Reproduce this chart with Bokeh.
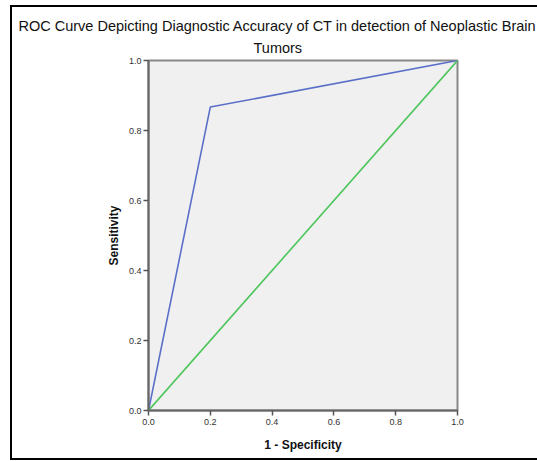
from bokeh.plotting import figure
from bokeh.models import Range1d, FixedTicker, NumeralTickFormatter, Title
from bokeh.embed import file_html
from bokeh.resources import INLINE

# Data
fpr = [0.0, 0.2, 1.0]
tpr = [0.0, 0.867, 1.0]
ref_x = [0.0, 1.0]
ref_y = [0.0, 1.0]
ticks = [0.0, 0.2, 0.4, 0.6, 0.8, 1.0]
title_line1 = "ROC Curve Depicting Diagnostic Accuracy of CT in detection of Neoplastic Brain"
title_line2 = "Tumors"

W, H = 525, 451
p = figure(width=W, height=H, output_backend="svg", toolbar_location=None,
           x_range=Range1d(0, 1), y_range=Range1d(0, 1),
           min_border_left=136, min_border_right=82, min_border_top=53, min_border_bottom=52)
p.background_fill_color = "#f0f0f0"
p.border_fill_color = "white"
p.outline_line_color = "#888888"
p.outline_line_width = 2
p.grid.visible = False

p.styles = {"border-left": "2px solid black", "border-top": "2px solid black",
            "border-bottom": "2px solid black", "box-sizing": "content-box",
            "margin-left": "10px", "margin-top": "5px"}

p.line(fpr, tpr, line_color="#5b6fc8", line_width=1.6)
p.line(ref_x, ref_y, line_color="#4cc55a", line_width=1.6)

for ax in (p.xaxis[0], p.yaxis[0]):
    ax.ticker = FixedTicker(ticks=ticks)
    ax.formatter = NumeralTickFormatter(format="0.0")
    ax.minor_tick_line_color = None
    ax.major_tick_in = 0
    ax.major_tick_out = 5
    ax.major_tick_line_color = "#555555"
    ax.major_tick_line_width = 1.5
    ax.axis_line_color = "#666666"
    ax.axis_line_width = 2
    ax.major_label_text_font = "Liberation Sans"
    ax.major_label_text_font_size = "9px"
    ax.major_label_text_color = "#333333"
    ax.axis_label_text_font = "Liberation Sans"
    ax.axis_label_text_font_style = "bold"
    ax.axis_label_text_font_size = "12px"
    ax.axis_label_text_color = "#111111"

p.xaxis[0].axis_label = "1 - Specificity"
p.yaxis[0].axis_label = "Sensitivity"
p.xaxis[0].major_label_standoff = 3
p.xaxis[0].axis_label_standoff = 10
p.yaxis[0].major_label_standoff = 2
p.yaxis[0].axis_label_standoff = 5

t2 = Title(text=title_line2, align="left", offset=105, standoff=9,
           text_font="Liberation Sans", text_font_size="14.5px", text_line_height=0.8,
           text_font_style="normal", text_color="#111111")
t1 = Title(text=title_line1, align="left", offset=-130, standoff=0,
           text_font="Liberation Sans", text_font_size="14.5px",
           text_font_style="normal", text_color="#111111")
p.add_layout(t2, "above")
p.add_layout(t1, "above")

open("out.html", "w").write(file_html(p, INLINE))
